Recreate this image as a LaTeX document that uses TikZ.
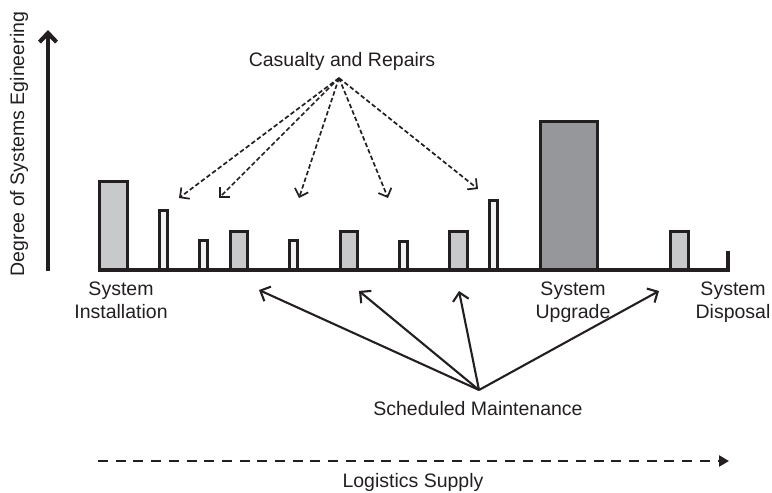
\documentclass[tikz,border=0pt]{standalone}
\usepackage{fontspec}
\setmainfont{Liberation Sans}
\usetikzlibrary{arrows.meta}
\definecolor{ink}{HTML}{231F20}
\definecolor{barlight}{HTML}{C8C9CB}
\definecolor{barwhite}{HTML}{F1F2F3}
\definecolor{bardark}{HTML}{96979A}
\begin{document}
\begin{tikzpicture}[x=1pt,y=-1pt,
  lbl/.style={font=\fontsize{19.5pt}{23pt}\selectfont, text=ink, inner sep=0pt},
  barbox/.style={draw=ink, line width=3.6pt, line join=miter},
  casarrow/.style={draw=ink, line width=1.7pt, dash pattern=on 4.5pt off 2.5pt,
     -{Straight Barb[length=7pt,width=14pt,line width=1.7pt]}},
  schedarrow/.style={draw=ink, line width=2.1pt,
     -{Straight Barb[length=8pt,width=16pt,line width=2.1pt]}},
  axisarrow/.style={draw=ink, line width=4.2pt,
     -{Straight Barb[length=9pt,width=17pt,line width=4.2pt]}},
  supplyarrow/.style={draw=ink, line width=2.8pt, dash pattern=on 10pt off 7.7pt,
     -{Triangle[length=10pt,width=11pt]}}
]
\useasboundingbox (0,0) rectangle (772,493);

% vertical axis
\coordinate (ax0) at (48,271);
\coordinate (ax1) at (48,30);
\draw[axisarrow] (ax0) -- (ax1);
\node[lbl, rotate=90, anchor=base] (ylab) at (24,144) {Degree of Systems Egineering};

% bars
\fill[barlight]  (99.5,270) rectangle (127.5,181.5);
\draw[barbox]    (99.5,270) |- (127.5,181.5) -- (127.5,270);
\fill[barwhite]  (159.5,270) rectangle (167.5,210.5);
\draw[barbox]    (159.5,270) |- (167.5,210.5) -- (167.5,270);
\fill[barwhite]  (199.5,270) rectangle (207.5,240.5);
\draw[barbox]    (199.5,270) |- (207.5,240.5) -- (207.5,270);
\fill[barlight]  (230.5,270) rectangle (247.5,231.5);
\draw[barbox]    (230.5,270) |- (247.5,231.5) -- (247.5,270);
\fill[barwhite]  (289.5,270) rectangle (297.5,240.5);
\draw[barbox]    (289.5,270) |- (297.5,240.5) -- (297.5,270);
\fill[barlight]  (340.5,270) rectangle (357.5,231.5);
\draw[barbox]    (340.5,270) |- (357.5,231.5) -- (357.5,270);
\fill[barwhite]  (399.5,270) rectangle (407.5,241.5);
\draw[barbox]    (399.5,270) |- (407.5,241.5) -- (407.5,270);
\fill[barlight]  (449.5,270) rectangle (467.5,231.5);
\draw[barbox]    (449.5,270) |- (467.5,231.5) -- (467.5,270);
\fill[barwhite]  (489.5,270) rectangle (497.5,200.5);
\draw[barbox]    (489.5,270) |- (497.5,200.5) -- (497.5,270);
\fill[bardark]   (540.5,270) rectangle (597.5,121.5);
\draw[barbox]    (540.5,270) |- (597.5,121.5) -- (597.5,270);
\fill[barlight]  (670.5,270) rectangle (688.5,231.5);
\draw[barbox]    (670.5,270) |- (688.5,231.5) -- (688.5,270);

% baseline
\draw[barbox] (98,270) -- (728,270) -- (728,251);

% phase labels
\node[lbl, align=center, anchor=north] (inst) at (121,282) {System\\Installation};
\node[lbl, align=center, anchor=north] (upg)  at (573,282) {System\\Upgrade};
\node[lbl, align=center, anchor=north] (disp) at (733,282) {System\\Disposal};

% casualty and repairs
\node[lbl, anchor=base] (cas) at (342,66) {Casualty and Repairs};
\coordinate (cs) at (339,78);
\coordinate (c1) at (179,198);
\coordinate (c2) at (219,198);
\coordinate (c3) at (299,198);
\coordinate (c4) at (388,198);
\coordinate (c5) at (478,189);
\foreach \t in {c1,c2,c3,c4,c5} \draw[casarrow] (cs) -- (\t);

% scheduled maintenance
\node[lbl, anchor=base] (sch) at (478,415) {Scheduled Maintenance};
\coordinate (ss) at (479,390);
\coordinate (s1) at (259,290);
\coordinate (s2) at (359,291);
\coordinate (s3) at (459,291);
\coordinate (s4) at (659,291);
\foreach \t in {s1,s2,s3,s4} \draw[schedarrow] (ss) -- (\t);

% logistics supply
\coordinate (l0) at (98,461);
\coordinate (l1) at (729,461);
\draw[supplyarrow] (l0) -- (l1);
\node[lbl, anchor=base] (log) at (413,487) {Logistics Supply};
\end{tikzpicture}
\end{document}
